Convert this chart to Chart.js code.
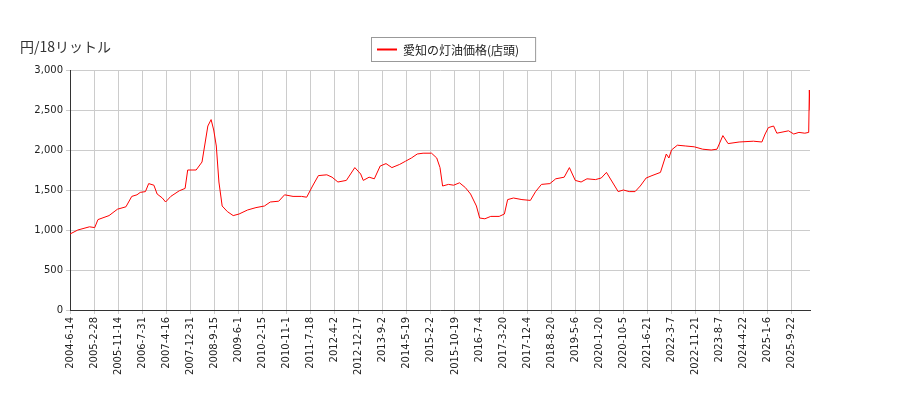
<!DOCTYPE html>
<html><head><meta charset="utf-8">
<script src="https://cdn.jsdelivr.net/npm/chart.js@4"></script>
<style>body{margin:0;background:#fff}#w{width:900px;height:400px}</style>
</head><body><div id="w"><canvas id="c"></canvas></div>
<script>
const seriesName = "愛知の灯油価格(店頭)";
const yTitle = "円/18リットル";
const dates = ["2004-6-14","2004-9-6","2005-1-10","2005-3-7","2005-4-11","2005-8-8","2005-11-7","2006-2-6","2006-4-10","2006-6-5","2006-7-10","2006-9-4","2006-10-9","2006-12-4","2007-1-8","2007-3-5","2007-4-9","2007-6-4","2007-9-3","2007-11-5","2007-12-3","2008-3-3","2008-5-5","2008-6-9","2008-7-7","2008-8-11","2008-9-8","2008-10-6","2008-11-3","2008-12-8","2009-2-2","2009-4-6","2009-6-8","2009-9-7","2009-12-7","2010-3-8","2010-5-10","2010-8-9","2010-10-11","2011-1-10","2011-4-11","2011-6-6","2011-8-8","2011-10-10","2012-1-9","2012-3-5","2012-5-7","2012-8-6","2012-11-5","2013-1-7","2013-2-4","2013-4-8","2013-6-3","2013-8-5","2013-10-7","2013-12-9","2014-3-3","2014-5-5","2014-7-7","2014-9-8","2014-11-10","2015-2-9","2015-4-6","2015-5-11","2015-6-8","2015-8-10","2015-10-5","2015-12-7","2016-2-8","2016-4-4","2016-6-6","2016-7-11","2016-9-5","2016-11-7","2017-2-6","2017-4-3","2017-5-8","2017-7-10","2017-10-9","2018-1-8","2018-3-5","2018-5-7","2018-8-6","2018-10-8","2019-1-7","2019-3-4","2019-5-6","2019-7-8","2019-9-9","2019-12-9","2020-2-10","2020-4-6","2020-6-8","2020-8-10","2020-10-5","2020-12-7","2021-2-8","2021-4-5","2021-6-7","2021-8-9","2021-11-8","2022-1-10","2022-2-7","2022-3-7","2022-5-9","2022-8-8","2022-11-7","2023-2-6","2023-5-8","2023-7-10","2023-9-11","2023-11-6","2024-3-4","2024-8-5","2024-11-4","2024-12-9","2025-1-13","2025-3-10","2025-4-14","2025-8-18","2025-10-13","2025-12-8","2026-2-9","2026-3-23","2026-3-30","2026-4-6"];
const prices = [950,1000,1040,1030,1130,1180,1260,1290,1420,1440,1470,1480,1580,1560,1450,1400,1350,1420,1490,1520,1750,1750,1850,2100,2300,2380,2250,2050,1600,1300,1230,1180,1200,1250,1280,1300,1350,1360,1440,1420,1420,1410,1550,1680,1690,1660,1600,1620,1780,1700,1620,1660,1640,1800,1830,1780,1820,1860,1900,1950,1960,1960,1900,1780,1550,1570,1560,1590,1530,1450,1300,1150,1140,1170,1170,1200,1380,1400,1380,1370,1480,1570,1580,1640,1660,1780,1620,1600,1640,1630,1650,1720,1600,1480,1500,1480,1480,1550,1650,1680,1720,1950,1900,2000,2060,2050,2040,2010,2000,2010,2180,2080,2100,2110,2100,2200,2280,2300,2210,2240,2200,2220,2210,2220,2750,2500];
const yTicks = [0,500,1000,1500,2000,2500,3000];
const tickStepDays = 259, tickCount = 31;

const DAY = 86400000;
const toDay = s => { const [y,m,d] = s.split("-").map(Number); return Date.UTC(y,m-1,d)/DAY; };
const fmt = v => { const dt = new Date(v*DAY); return dt.getUTCFullYear()+"-"+(dt.getUTCMonth()+1)+"-"+dt.getUTCDate(); };
const pts = dates.map((d,i)=>({x:toDay(d), y:prices[i]}));
const x0 = toDay(dates[0]);

const deco = {
  id:'deco',
  afterDraw(ch){
    const c = ch.ctx; c.save();
    c.fillStyle='#333'; c.font='14px "Noto Sans CJK JP"'; c.textBaseline='middle';
    c.fillText(yTitle, 20, 47);
    c.font='12px "Noto Sans CJK JP"';
    const tw = c.measureText(seriesName).width;
    const bw = tw+48, bx = 371, by = 37, bh = 24;
    c.strokeStyle='#999'; c.lineWidth=1; c.strokeRect(bx+0.5,by+0.5,bw,bh);
    c.strokeStyle='red'; c.lineWidth=2; c.beginPath(); c.moveTo(bx+6,by+12.5); c.lineTo(bx+26,by+12.5); c.stroke();
    c.fillStyle='#222'; c.fillText(seriesName, bx+32, by+13);
    c.restore();
  }
};

new Chart(document.getElementById('c'), {
  type:'line',
  data:{datasets:[{data:pts, borderColor:'red', borderWidth:1, pointRadius:0, tension:0}]},
  options:{
    responsive:true, maintainAspectRatio:false, animation:false,
    layout:{padding:{top:70,right:90,left:0,bottom:0}},
    plugins:{legend:{display:false}, tooltip:{enabled:false}},
    scales:{
      x:{type:'linear', min:x0, max:pts[pts.length-1].x,
        afterBuildTicks(ax){ ax.ticks = Array.from({length:tickCount},(_,i)=>({value:x0+i*tickStepDays})); },
        afterFit(ax){ ax.height = 90; },
        ticks:{autoSkip:false, maxRotation:90, minRotation:90, color:'#222', font:{family:'DejaVu Sans', size:10}, callback:v=>fmt(v)},
        grid:{color:'#ccc', drawTicks:true, tickLength:4}, border:{color:'#333'}},
      y:{min:0,max:3000,
        afterBuildTicks(ax){ ax.ticks = yTicks.map(v=>({value:v})); },
        afterFit(ax){ ax.width = 70; },
        ticks:{color:'#222', font:{family:'DejaVu Sans', size:10}},
        grid:{color:'#ccc', tickLength:4}, border:{color:'#333'}}
    }
  },
  plugins:[deco]
});
</script></body></html>
